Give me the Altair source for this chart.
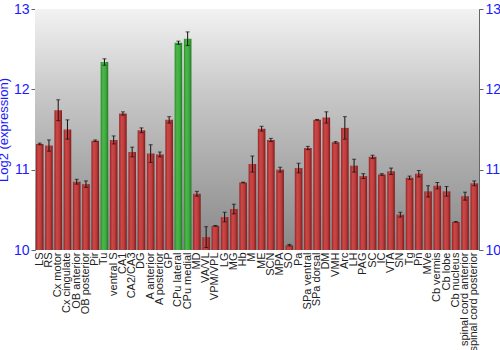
import altair as alt
import pandas as pd

regions = ["LS", "RS", "Cx motor", "Cx cingulate", "OB anterior", "OB posterior", "Pir", "Tu",
           "ventral S", "CA1", "CA2/CA3", "DG", "A anterior", "A posterior", "GP", "CPu lateral",
           "CPu medial", "MD", "VA/VL", "VPM/VPL", "LG", "MG", "Hb", "M", "ME", "SCN", "MPA", "SO",
           "Pa", "SPa ventral", "SPa dorsal", "DM", "VMH", "Arc", "LH", "PAG", "SC", "IC", "VTA",
           "SN", "Tg", "Pn", "MVe", "Cb vermis", "Cb lobe", "Cb nucleus", "spinal cord anterior",
           "spinal cord posterior"]
values = [11.32, 11.30, 11.74, 11.50, 10.85, 10.82, 11.36, 12.34,
          11.37, 11.70, 11.22, 11.49, 11.20, 11.19, 11.62, 12.58,
          12.63, 10.70, 10.16, 10.30, 10.41, 10.51, 10.84, 11.07, 11.51, 11.37, 11.00, 10.06,
          11.02, 11.27, 11.62, 11.65, 11.34, 11.52, 11.05, 10.92, 11.16, 10.94, 10.98,
          10.44, 10.90, 10.95, 10.73, 10.80, 10.73, 10.35, 10.67,
          10.83]
errors = [0.01, 0.07, 0.13, 0.12, 0.03, 0.04, 0.01, 0.04,
          0.05, 0.02, 0.06, 0.03, 0.11, 0.03, 0.04, 0.02,
          0.085, 0.03, 0.13, 0.005, 0.06, 0.06, 0.005, 0.10, 0.03, 0.02, 0.03, 0.01,
          0.06, 0.02, 0.005, 0.07, 0.01, 0.14, 0.08, 0.03, 0.02, 0.01, 0.04,
          0.03, 0.02, 0.04, 0.07, 0.04, 0.06, 0.005, 0.05,
          0.03]
highlight = ["Tu", "CPu lateral", "CPu medial"]
y_ticks = [10, 11, 12, 13]

df = pd.DataFrame({"region": regions, "value": values, "err": errors})
df["lo"] = df["value"] - df["err"]
df["hi"] = df["value"] + df["err"]
df["group"] = ["green" if r in highlight else "red" for r in regions]

ysc = alt.Scale(domain=[10, 13], nice=False, zero=False)
xenc = alt.X("region:N", sort=regions,
             scale=alt.Scale(paddingInner=0.18, paddingOuter=0.1),
             axis=alt.Axis(title=None, labelAngle=-90, labelFontSize=11, labelColor="#222222",
                           labelFont="Liberation Sans", ticks=False, domain=False, labelPadding=2))

red_grad = alt.Gradient(gradient="linear", x1=0, y1=0, x2=1, y2=0, stops=[
    alt.GradientStop(color="#942424", offset=0),
    alt.GradientStop(color="#cc4848", offset=0.3),
    alt.GradientStop(color="#be3c3c", offset=0.65),
    alt.GradientStop(color="#7e1a1a", offset=1)])
green_grad = alt.Gradient(gradient="linear", x1=0, y1=0, x2=1, y2=0, stops=[
    alt.GradientStop(color="#2a8a2a", offset=0),
    alt.GradientStop(color="#4cb84c", offset=0.3),
    alt.GradientStop(color="#40ac40", offset=0.65),
    alt.GradientStop(color="#227a22", offset=1)])
bg_grad = alt.Gradient(gradient="linear", x1=0, y1=0, x2=0, y2=1, stops=[
    alt.GradientStop(color="#f2f2f2", offset=0),
    alt.GradientStop(color="#c8c8c8", offset=0.35),
    alt.GradientStop(color="#888888", offset=1)])

base = alt.Chart(df)

left_axis = alt.Axis(title="Log2 (expression)", titleColor="#1a1aff", titleFontSize=13,
                     titleFont="Liberation Sans", titleFontWeight="normal", titlePadding=3,
                     labelColor="#1a1aff", labelFontSize=14, labelFont="Liberation Sans",
                     values=y_ticks, format="d", grid=True, gridColor="white", gridWidth=1.5,
                     domainColor="#666666", tickColor="#666666", tickSize=4, labelPadding=2)

bg = alt.Chart(pd.DataFrame({"top": [13], "bottom": [10]})).mark_rect(color=bg_grad).encode(
    y=alt.Y("top:Q", scale=ysc, axis=left_axis), y2="bottom:Q")

bars_red = base.transform_filter(alt.datum.group == "red").mark_bar(color=red_grad).encode(
    x=xenc, y=alt.Y("value:Q", scale=ysc), y2=alt.datum(10))
bars_green = base.transform_filter(alt.datum.group == "green").mark_bar(color=green_grad).encode(
    x=xenc, y=alt.Y("value:Q", scale=ysc), y2=alt.datum(10))

rules = base.mark_rule(color="#111111", strokeWidth=1).encode(
    x=xenc, y=alt.Y("lo:Q", scale=ysc), y2="hi:Q")
cap_lo = base.mark_tick(color="#111111", thickness=1, size=4).encode(
    x=xenc, y=alt.Y("lo:Q", scale=ysc))
cap_hi = base.mark_tick(color="#111111", thickness=1, size=4).encode(
    x=xenc, y=alt.Y("hi:Q", scale=ysc))

right_axis = alt.Axis(title=None, orient="right", labelColor="#1a1aff", labelFontSize=14,
                      labelFont="Liberation Sans", values=y_ticks, format="d", grid=False,
                      domainColor="#666666", tickColor="#666666", tickSize=4, labelPadding=2)
right = base.mark_point(opacity=0).encode(
    x=xenc, y=alt.Y("value:Q", scale=ysc, axis=right_axis))

left_layer = alt.layer(bg, bars_red, bars_green, rules, cap_lo, cap_hi)
chart = alt.layer(left_layer, right).resolve_scale(y="independent").properties(
    width=444, height=241,
    autosize=alt.AutoSizeParams(type="none"),
    padding={"left": 35, "top": 9, "right": 21, "bottom": 100},
    background="white",
).configure_view(stroke="#666666", strokeWidth=1)

chart.save("out.html", embed_options={"renderer": "svg", "actions": False})
